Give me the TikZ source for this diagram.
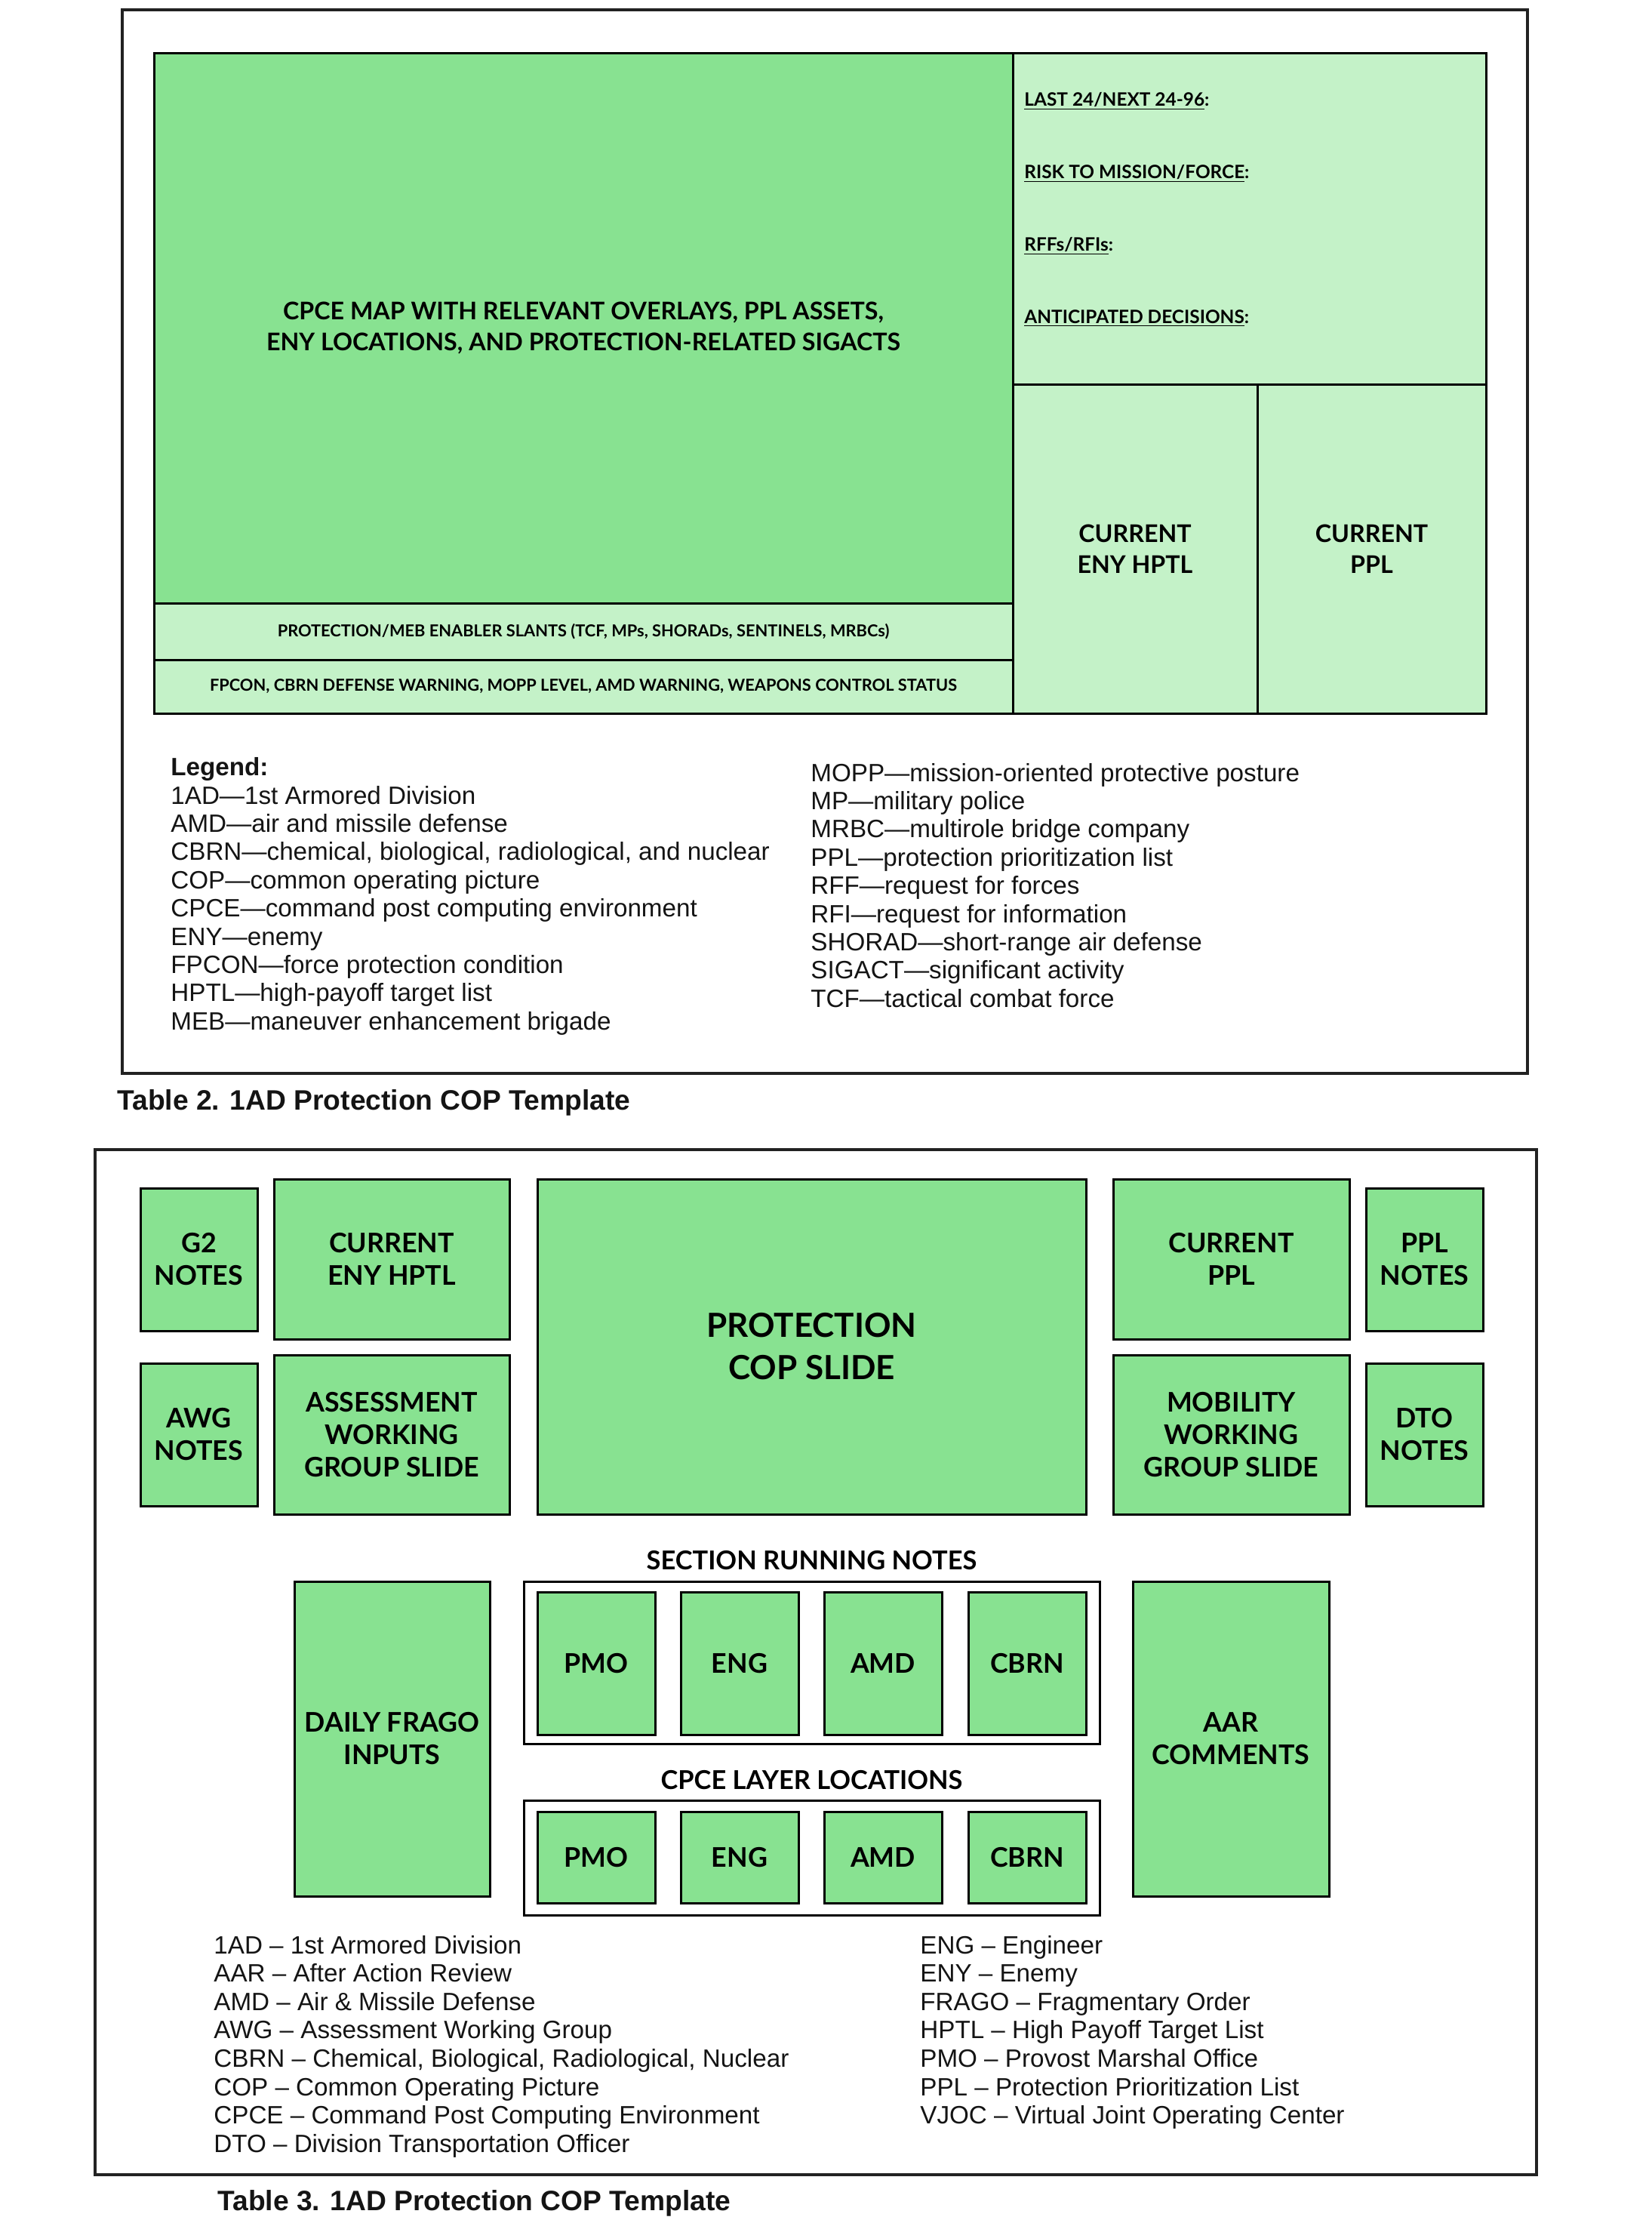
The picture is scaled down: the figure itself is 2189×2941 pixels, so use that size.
\documentclass[tikz,border=0pt]{standalone}
\usepackage{fontspec}
\setmainfont{Liberation Sans}
\newfontfamily\boxfont{Lato}
\definecolor{dkgreen}{RGB}{136,226,145}
\definecolor{ltgreen}{RGB}{196,242,200}
\definecolor{framegray}{RGB}{34,34,34}
\definecolor{txt}{RGB}{20,20,20}
\tikzset{
  dkbox/.style={draw=black, line width=1.5pt, fill=dkgreen, inner sep=0pt, align=center, text=black},
  ltbox/.style={draw=black, line width=1.5pt, fill=ltgreen, inner sep=0pt, align=center, text=black},
  outerbox/.style={draw=black, line width=1.5pt, inner sep=0pt},
  frm/.style={draw=framegray, line width=2pt, inner sep=0pt},
  fsmall/.style={font=\boxfont\bfseries\fontsize{17.9}{21.5}\selectfont},
  fbig/.style={font=\boxfont\bfseries\fontsize{22}{28}\selectfont},
  fmap/.style={font=\boxfont\bfseries\fontsize{16.1}{20.5}\selectfont},
  fhead/.style={font=\boxfont\bfseries\fontsize{17.2}{20}\selectfont, inner sep=0pt},
  fnote/.style={font=\boxfont\bfseries\fontsize{12.2}{14}\selectfont, inner sep=0pt, anchor=base west},
  fslant/.style={font=\boxfont\bfseries\fontsize{10.9}{13}\selectfont},
  legtxt/.style={font=\fontsize{16.6}{19}\selectfont, inner sep=0pt, anchor=base west, text=txt},
  legbold/.style={font=\bfseries\fontsize{16.6}{19}\selectfont, inner sep=0pt, anchor=base west, text=txt},
  captxt/.style={font=\bfseries\fontsize{18.6}{22}\selectfont, inner sep=0pt, anchor=base west, text=txt},
}
\newcommand{\bx}[7]{\node[#6, minimum width={(#4-#2)*0.5pt}, minimum height={(#5-#3)*0.5pt}] (#1) at ({(#2+#4)/2},{(#3+#5)/2}) {#7};}
\begin{document}
\begin{tikzpicture}[x=0.5pt,y=-0.5pt]
\useasboundingbox[fill=white] (0,0) rectangle (2189,2941);
% ---------------- Table 2 ----------------
\bx{frameA}{162}{13}{2024}{1422}{frm}{}
\bx{map}{204}{70}{1342}{799}{dkbox,fmap}{CPCE MAP WITH RELEVANT OVERLAYS, PPL ASSETS,\\ENY LOCATIONS, AND PROTECTION-RELATED SIGACTS}
\bx{slant}{204}{799}{1342}{874}{ltbox,fslant}{PROTECTION/MEB ENABLER SLANTS (TCF, MPs, SHORADs, SENTINELS, MRBCs)}
\bx{fpcon}{204}{874}{1342}{945}{ltbox,fslant}{FPCON, CBRN DEFENSE WARNING, MOPP LEVEL, AMD WARNING, WEAPONS CONTROL STATUS}
\bx{notes}{1342}{70}{1969}{509}{ltbox}{}
\bx{enyA}{1342}{509}{1666}{945}{ltbox,fmap}{CURRENT\\ENY HPTL}
\bx{pplA}{1666}{509}{1969}{945}{ltbox,fmap}{CURRENT\\PPL}
\node[fnote] (nlast) at (1357,140) {\underline{LAST 24/NEXT 24-96}:};
\node[fnote] (nrisk) at (1357,236) {\underline{RISK TO MISSION/FORCE}:};
\node[fnote] (nrff) at (1357,332) {\underline{RFFs/RFIs}:};
\node[fnote] (nanti) at (1357,428) {\underline{ANTICIPATED DECISIONS}:};
% legend table 2
\node[legbold] (legT) at (226,1027) {Legend:};
\foreach \t [count=\i from 0] in {1AD---1st Armored Division, AMD---air and missile defense, {CBRN---chemical, biological, radiological, and nuclear}, COP---common operating picture, CPCE---command post computing environment, ENY---enemy, FPCON---force protection condition, HPTL---high-payoff target list, MEB---maneuver enhancement brigade}
  \node[legtxt] (lgA\i) at (226,{1065+37.4*\i}) {\t};
\foreach \t [count=\i from 0] in {MOPP---mission-oriented protective posture, MP---military police, MRBC---multirole bridge company, PPL---protection prioritization list, RFF---request for forces, RFI---request for information, SHORAD---short-range air defense, SIGACT---significant activity, TCF---tactical combat force}
  \node[legtxt] (lgB\i) at (1074,{1035+37.4*\i}) {\t};
\node[captxt] (capA) at (155,1470) {Table 2. 1AD Protection COP Template};
% ---------------- Table 3 ----------------
\bx{frameB}{126}{1523}{2036}{2881}{frm}{}
\bx{g2}{186}{1574}{341}{1763}{dkbox,fsmall}{G2\\NOTES}
\bx{awg}{186}{1806}{341}{1995}{dkbox,fsmall}{AWG\\NOTES}
\bx{enyB}{363}{1562}{675}{1774}{dkbox,fsmall}{CURRENT\\ENY HPTL}
\bx{assess}{363}{1795}{675}{2006}{dkbox,fsmall}{ASSESSMENT\\WORKING\\GROUP SLIDE}
\bx{prot}{712}{1562}{1439}{2006}{dkbox,fbig}{PROTECTION\\COP SLIDE}
\bx{pplB}{1475}{1562}{1788}{1774}{dkbox,fsmall}{CURRENT\\PPL}
\bx{mob}{1475}{1795}{1788}{2006}{dkbox,fsmall}{MOBILITY\\WORKING\\GROUP SLIDE}
\bx{ppln}{1810}{1574}{1965}{1763}{dkbox,fsmall}{PPL\\NOTES}
\bx{dto}{1810}{1806}{1965}{1995}{dkbox,fsmall}{DTO\\NOTES}
\node[fhead] (hsec) at (1075.5,2067) {SECTION RUNNING NOTES};
\bx{secbox}{694}{2095}{1457}{2310}{outerbox}{}
\bx{sPMO}{712}{2109}{868}{2298}{dkbox,fsmall}{PMO}
\bx{sENG}{902}{2109}{1058}{2298}{dkbox,fsmall}{ENG}
\bx{sAMD}{1092}{2109}{1248}{2298}{dkbox,fsmall}{AMD}
\bx{sCBRN}{1283}{2109}{1439}{2298}{dkbox,fsmall}{CBRN}
\node[fhead] (hcpce) at (1075.5,2358) {CPCE LAYER LOCATIONS};
\bx{cpcebox}{694}{2385}{1457}{2537}{outerbox}{}
\bx{cPMO}{712}{2400}{868}{2521}{dkbox,fsmall}{PMO}
\bx{cENG}{902}{2400}{1058}{2521}{dkbox,fsmall}{ENG}
\bx{cAMD}{1092}{2400}{1248}{2521}{dkbox,fsmall}{AMD}
\bx{cCBRN}{1283}{2400}{1439}{2521}{dkbox,fsmall}{CBRN}
\bx{frago}{390}{2095}{649}{2512}{dkbox,fsmall}{DAILY FRAGO\\INPUTS}
\bx{aar}{1501}{2095}{1761}{2512}{dkbox,fsmall}{AAR\\COMMENTS}
% legend table 3
\foreach \t [count=\i from 0] in {1AD -- 1st Armored Division, AAR -- After Action Review, AMD -- Air \& Missile Defense, AWG -- Assessment Working Group, {CBRN -- Chemical, Biological, Radiological, Nuclear}, COP -- Common Operating Picture, CPCE -- Command Post Computing Environment, DTO -- Division Transportation Officer}
  \node[legtxt] (lgC\i) at (283,{2588+37.6*\i}) {\t};
\foreach \t [count=\i from 0] in {ENG -- Engineer, ENY -- Enemy, FRAGO -- Fragmentary Order, HPTL -- High Payoff Target List, PMO -- Provost Marshal Office, PPL -- Protection Prioritization List, VJOC -- Virtual Joint Operating Center}
  \node[legtxt] (lgD\i) at (1219,{2588+37.6*\i}) {\t};
\node[captxt] (capB) at (288,2928) {Table 3. 1AD Protection COP Template};
\end{tikzpicture}
\end{document}
